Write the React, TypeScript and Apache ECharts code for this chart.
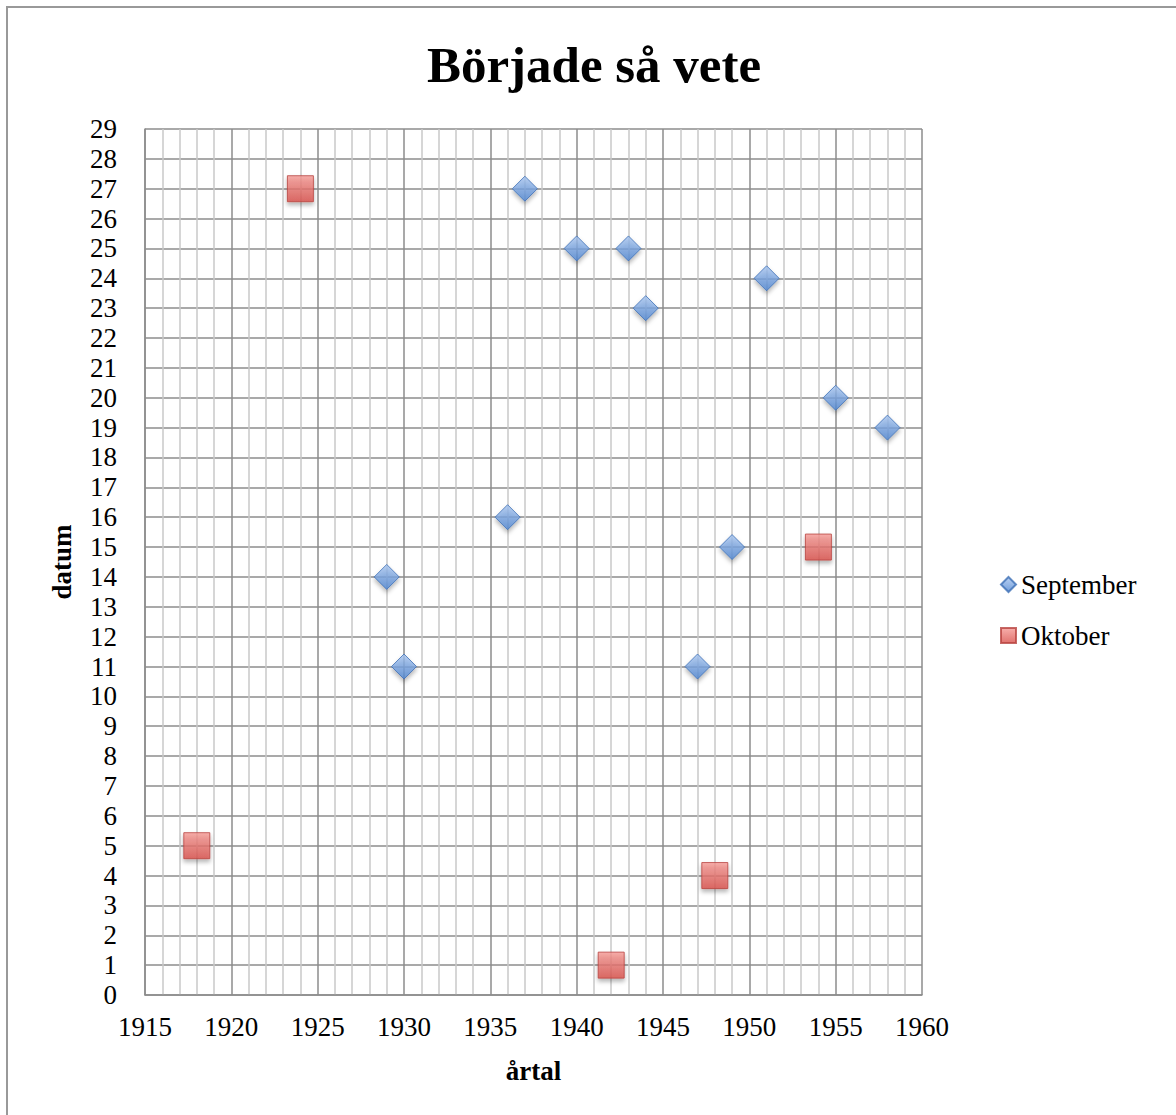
import React, { useEffect, useRef } from "react";
import * as echarts from "echarts";

const title = "Började så vete";
const xName = "årtal";
const yName = "datum";
const seriesNames = ["September", "Oktober"];

const septemberYears = [1929, 1930, 1936, 1937, 1940, 1943, 1944, 1947, 1949, 1951, 1955, 1958];
const septemberDays = [14, 11, 16, 27, 25, 25, 23, 11, 15, 24, 20, 19];

const oktoberYears = [1918, 1924, 1942, 1948, 1954];
const oktoberDays = [5, 27, 1, 4, 15];

const FONT = "'Liberation Serif', 'Times New Roman', serif";

export default function App() {
  const ref = useRef<HTMLDivElement>(null);
  useEffect(() => {
    if (!ref.current) return;
    const chart = echarts.init(ref.current, null, { renderer: "svg" });
    const blue = new echarts.graphic.LinearGradient(0, 0, 0, 1, [
      { offset: 0, color: "#a9c6f0" },
      { offset: 1, color: "#4f86d2" },
    ]);
    const red = new echarts.graphic.LinearGradient(0, 0, 0, 1, [
      { offset: 0, color: "#f59a95" },
      { offset: 1, color: "#d9504b" },
    ]);
    chart.setOption({
      animation: false,
      backgroundColor: "#ffffff",
      textStyle: { fontFamily: FONT },
      title: {
        text: title,
        left: 589,
        textAlign: "center",
        top: 34,
        textStyle: { fontFamily: FONT, fontWeight: "bold", fontSize: 51, color: "#000" },
      },
      graphic: [
        {
          type: "polyline",
          shape: { points: [[7, 1200], [7, 7], [1200, 7]] },
          style: { stroke: "#999999", lineWidth: 2, fill: null },
          silent: true,
        },
      ],
      legend: {
        orient: "vertical",
        left: 995,
        top: 566,
        itemWidth: 15,
        itemHeight: 15,
        itemGap: 24,
        textStyle: { fontFamily: FONT, fontSize: 27, color: "#000" },
        data: [
          { name: seriesNames[0], icon: "diamond" },
          { name: seriesNames[1], icon: "rect" },
        ],
      },
      grid: { left: 145, right: 254, top: 129, bottom: 120, containLabel: false },
      xAxis: {
        type: "value",
        min: 1915,
        max: 1960,
        interval: 5,
        name: xName,
        nameLocation: "middle",
        nameGap: 62,
        nameTextStyle: { fontFamily: FONT, fontWeight: "bold", fontSize: 27, color: "#000" },
        axisLine: { show: true, lineStyle: { color: "#8c8c8c", width: 1.5 } },
        axisTick: { show: false },
        axisLabel: {
          fontFamily: FONT,
          fontSize: 27,
          color: "#000",
          margin: 18,
          formatter: (v: number) => String(v),
        },
        splitLine: { show: true, lineStyle: { color: "#8c8c8c", width: 1.5 } },
        minorTick: { show: false, splitNumber: 5 },
        minorSplitLine: { show: true, lineStyle: { color: "#c8c8c8", width: 1.5 } },
      },
      yAxis: {
        type: "value",
        min: 0,
        max: 29,
        interval: 1,
        name: yName,
        nameLocation: "middle",
        nameGap: 70,
        nameTextStyle: { fontFamily: FONT, fontWeight: "bold", fontSize: 27, color: "#000" },
        axisLine: { show: true, lineStyle: { color: "#8c8c8c", width: 1.5 } },
        axisTick: { show: false },
        axisLabel: { fontFamily: FONT, fontSize: 27, color: "#000", margin: 28 },
        splitLine: { show: true, lineStyle: { color: "#8c8c8c", width: 1.5 } },
      },
      series: [
        {
          name: seriesNames[0],
          type: "scatter",
          symbol: "diamond",
          symbolSize: [25, 25],
          data: septemberYears.map((y, i) => [y, septemberDays[i]]),
          itemStyle: {
            color: blue,
            borderColor: "#3d6fb5",
            borderWidth: 1,
            shadowBlur: 4,
            shadowOffsetY: 3,
            shadowColor: "rgba(0,0,0,0.35)",
          },
        },
        {
          name: seriesNames[1],
          type: "scatter",
          symbol: "rect",
          symbolSize: [26, 26],
          data: oktoberYears.map((y, i) => [y, oktoberDays[i]]),
          itemStyle: {
            color: red,
            borderColor: "#b84440",
            borderWidth: 1,
            shadowBlur: 4,
            shadowOffsetY: 3,
            shadowColor: "rgba(0,0,0,0.35)",
          },
        },
      ],
    });
    return () => chart.dispose();
  }, []);
  return (
    <div
      ref={ref}
      style={{ position: "absolute", left: 0, top: 0, width: 1176, height: 1115 }}
    />
  );
}
